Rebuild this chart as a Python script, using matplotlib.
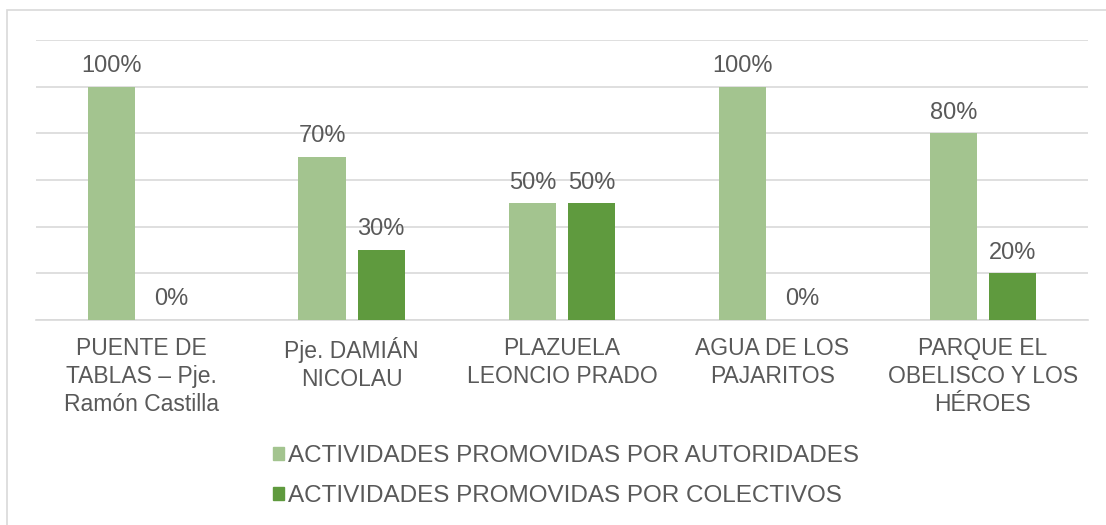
import matplotlib.pyplot as plt
import matplotlib.patches as mpatches
import numpy as np

# data
categories = ["PUENTE DE\nTABLAS – Pje.\nRamón Castilla",
              "Pje. DAMIÁN\nNICOLAU",
              "PLAZUELA\nLEONCIO PRADO",
              "AGUA DE LOS\nPAJARITOS",
              "PARQUE EL\nOBELISCO Y LOS\nHÉROES"]
autoridades = [100, 70, 50, 100, 80]
colectivos = [0, 30, 50, 0, 20]
series_names = ["ACTIVIDADES PROMOVIDAS POR AUTORIDADES",
                "ACTIVIDADES PROMOVIDAS POR COLECTIVOS"]

plt.rcParams['font.family'] = ['Liberation Sans', 'DejaVu Sans']
text_color = '#595959'
grid_color = '#d9d9d9'
light_green = '#a3c48f'
dark_green = '#5f9a3e'

fig = plt.figure(figsize=(11.06, 5.25), dpi=100)
ax = fig.add_axes([36 / 1106, 205 / 525, 1052 / 1106, 280 / 525])

x = np.arange(len(categories))
w = 0.224
gap = 0.057
off = (w + gap) / 2
b1 = ax.bar(x - off, autoridades, w, color=light_green, zorder=3)
b2 = ax.bar(x + off, colectivos, w, color=dark_green, zorder=3)

for bars in (b1, b2):
    ax.bar_label(bars, labels=[f"{v:g}%" for v in bars.datavalues],
                 padding=7, fontsize=17, color=text_color)

ax.set_xlim(-0.5, len(categories) - 0.5)
ax.set_ylim(0, 120)
ax.set_yticks(np.arange(0, 121, 20))
ax.yaxis.grid(True, color=grid_color, linewidth=1.2, zorder=0)
ax.tick_params(axis='y', length=0, labelleft=False)
ax.tick_params(axis='x', length=0, pad=12)
ax.set_xticks(x)
ax.set_xticklabels(categories, fontsize=16.5, color=text_color, linespacing=1.28)
for s in ['top', 'right', 'left']:
    ax.spines[s].set_visible(False)
ax.spines['bottom'].set_color(grid_color)
ax.spines['bottom'].set_linewidth(1.2)

handles = [mpatches.Patch(color=light_green), mpatches.Patch(color=dark_green)]
leg = fig.legend(handles, series_names, loc='center', bbox_to_anchor=(566 / 1106, 1 - 476 / 525),
                 ncol=1, frameon=False, fontsize=17.5, handlelength=0.45, handleheight=0.45,
                 handletextpad=0.15, labelspacing=0.75)
for t in leg.get_texts():
    t.set_color(text_color)

# outer chart border (cropped at right and bottom)
fig.patches.append(mpatches.Rectangle((7 / 1106, -0.1), 1.2, 1 - 10 / 525 + 0.1,
                                      transform=fig.transFigure, fill=False,
                                      edgecolor=grid_color, linewidth=1.2))

fig.savefig("out.png", dpi=100)
